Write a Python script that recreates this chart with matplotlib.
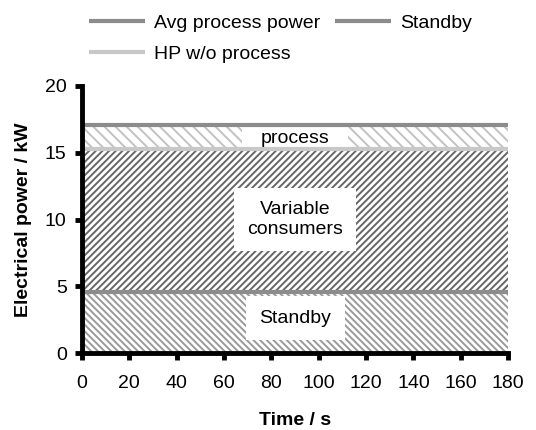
import numpy as np
import matplotlib
matplotlib.use('Agg')
import matplotlib.pyplot as plt

plt.rcParams['font.family'] = ['Liberation Sans', 'DejaVu Sans']
plt.rcParams['hatch.linewidth'] = 1.4

# data
time = [0, 180]
standby = [4.6, 4.6]
hp_wo_process = [15.3, 15.3]
avg_process = [17.1, 17.1]

fig = plt.figure(figsize=(5.36, 4.3), dpi=100)
ax = fig.add_axes([0.153, 0.179, 0.795, 0.621])

# hatched areas
ax.fill_between(time, 0, standby, facecolor='white', edgecolor='#9a9a9a',
                hatch='\\\\\\\\\\', linewidth=0, zorder=1)
ax.fill_between(time, standby, hp_wo_process, facecolor='white', edgecolor='#666666',
                hatch='/////', linewidth=0, zorder=1)
ax.fill_between(time, hp_wo_process, avg_process, facecolor='white', edgecolor='#c2c2c2',
                hatch='\\\\\\', linewidth=0, zorder=1)

# lines
l_avg, = ax.plot(time, avg_process, color='#8c8c8c', lw=3, label='Avg process power',
                 solid_capstyle='butt', zorder=4)
l_sb, = ax.plot(time, standby, color='#8c8c8c', lw=3, label='Standby',
                solid_capstyle='butt', zorder=4)
l_hp, = ax.plot(time, hp_wo_process, color='#c8c8c8', lw=3, label='HP w/o process',
                solid_capstyle='butt', zorder=4)

# labels in white boxes
xc = 90
ax.fill_between([xc - 22.5, xc + 22.5], hp_wo_process, avg_process, color='white',
                linewidth=0, zorder=2)
ax.text(xc, (hp_wo_process[0] + avg_process[0]) / 2 - 0.1, 'process', ha='center',
        va='center', fontsize=14, zorder=3)
ax.text(xc, 10.0, 'Variable\nconsumers', ha='center', va='center', fontsize=14,
        linespacing=1.25, zorder=2,
        bbox=dict(facecolor='white', edgecolor='none', boxstyle='square,pad=0.65'))
ax.text(xc, 2.6, 'Standby', ha='center', va='center', fontsize=14, zorder=2,
        bbox=dict(facecolor='white', edgecolor='none', boxstyle='square,pad=0.7'))

ax.set_xlim(0, 180)
ax.set_ylim(0, 20)
ax.set_xticks(np.arange(0, 181, 20))
ax.set_yticks(np.arange(0, 21, 5))
ax.tick_params(labelsize=14, width=3.5, length=5, direction='out')
ax.tick_params(axis='x', pad=11)
ax.tick_params(axis='y', pad=6)
for s in ['top', 'right']:
    ax.spines[s].set_visible(False)
for s in ['left', 'bottom']:
    ax.spines[s].set_linewidth(3.5)
    ax.spines[s].set_zorder(5)

ax.set_xlabel('Time / s', fontsize=14, fontweight='bold', labelpad=14)
ax.set_ylabel('Electrical power / kW', fontsize=14, fontweight='bold', labelpad=9)

fig.legend([l_avg, l_hp, l_sb], ['Avg process power', 'HP w/o process', 'Standby'],
           loc='upper left', bbox_to_anchor=(0.133, 1.008), ncol=2, frameon=False,
           fontsize=14, handlelength=2.9, columnspacing=0.75, labelspacing=0.72,
           handletextpad=0.45)

fig.savefig('out.png', dpi=100)
